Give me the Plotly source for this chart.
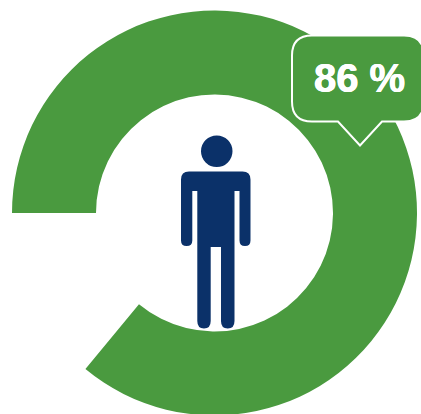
import plotly.graph_objects as go

# Data
labels = ["Share", "Remainder"]
values = [86, 14]
callout_text = "86 %"

GREEN = "#4A9A3F"
NAVY = "#0B3169"
W, H = 421, 426   # canvas; the window clips the bottom of the ring
CX, CY, R = 214.5, 213.0, 202.5
r_inner = 118.5


def X(px):
    return px / W


def Y(py):
    return 1 - py / H


def path(cmds):
    """cmds: list of (letter, x, y) in pixels -> paper-space SVG path"""
    out = []
    for c in cmds:
        if c[0] == "Z":
            out.append("Z")
        elif c[0] == "Q":
            out.append(f"Q{X(c[1]):.5f},{Y(c[2]):.5f} {X(c[3]):.5f},{Y(c[4]):.5f}")
        else:
            out.append(f"{c[0]}{X(c[1]):.5f},{Y(c[2]):.5f}")
    return " ".join(out)


fig = go.Figure(
    go.Pie(
        labels=labels,
        values=values,
        hole=r_inner / R,
        rotation=270,
        direction="clockwise",
        sort=False,
        textinfo="none",
        hoverinfo="skip",
        showlegend=False,
        marker=dict(colors=[GREEN, "rgba(0,0,0,0)"], line=dict(width=0)),
        domain=dict(x=[(CX - R) / W, (CX + R) / W], y=[(H - CY - R) / H, (H - CY + R) / H]),
    )
)

# Callout bubble
l, t, r, b, c = 292, 35.5, 424, 121.5, 20
bubble = path([
    ("M", l + c, t), ("L", r - c, t), ("Q", r, t, r, t + c), ("L", r, b - c), ("Q", r, b, r - c, b),
    ("L", 382, b), ("L", 360, 145.5), ("L", 338, b), ("L", l + c, b), ("Q", l, b, l, b - c),
    ("L", l, t + c), ("Q", l, t, l + c, t), ("Z",),
])

# Person
body = path([
    ("M", 189, 171.5), ("L", 242.5, 171.5), ("Q", 250.5, 171.5, 250.5, 179.5),
    ("L", 250.5, 240.5), ("Q", 250.5, 246, 245, 246), ("Q", 239.5, 246, 239.5, 240.5),
    ("L", 239.5, 191), ("L", 234.5, 191), ("L", 234.5, 321), ("Q", 234.5, 328.5, 227.7, 328.5),
    ("Q", 221, 328.5, 221, 321), ("L", 221, 247), ("L", 210.7, 247), ("L", 210.7, 321),
    ("Q", 210.7, 328.5, 204, 328.5), ("Q", 197.3, 328.5, 197.3, 321), ("L", 197.3, 191),
    ("L", 192.3, 191), ("L", 192.3, 240.5), ("Q", 192.3, 246, 186.6, 246), ("Q", 181, 246, 181, 240.5),
    ("L", 181, 179.5), ("Q", 181, 171.5, 189, 171.5), ("Z",),
])

shapes = [
    dict(type="path", xref="paper", yref="paper", path=bubble, fillcolor=GREEN,
         line=dict(color="white", width=2), layer="above"),
    dict(type="path", xref="paper", yref="paper", path=body, fillcolor=NAVY,
         line=dict(width=0), layer="above"),
    dict(type="circle", xref="paper", yref="paper", x0=X(201), x1=X(232.5), y0=Y(135.5), y1=Y(167),
         fillcolor=NAVY, line=dict(width=0), layer="above"),
]

fig.update_layout(
    width=W,
    height=H,
    margin=dict(l=0, r=0, t=0, b=0),
    paper_bgcolor="white",
    plot_bgcolor="white",
    shapes=shapes,
    annotations=[
        dict(text=f"<b>{callout_text}</b>", x=X(359), y=Y(78), xref="paper", yref="paper",
             xanchor="center", yanchor="middle", showarrow=False,
             font=dict(family="Liberation Sans", size=40, color="white",
                       shadow="0.5px 0 0.5px white, -0.5px 0 0.5px white")),
    ],
)

fig.write_html(
    "out.html",
    config=dict(displayModeBar=False),
    post_script="document.body.style.margin='0';document.body.style.overflow='hidden';document.documentElement.style.overflow='hidden';",
)
